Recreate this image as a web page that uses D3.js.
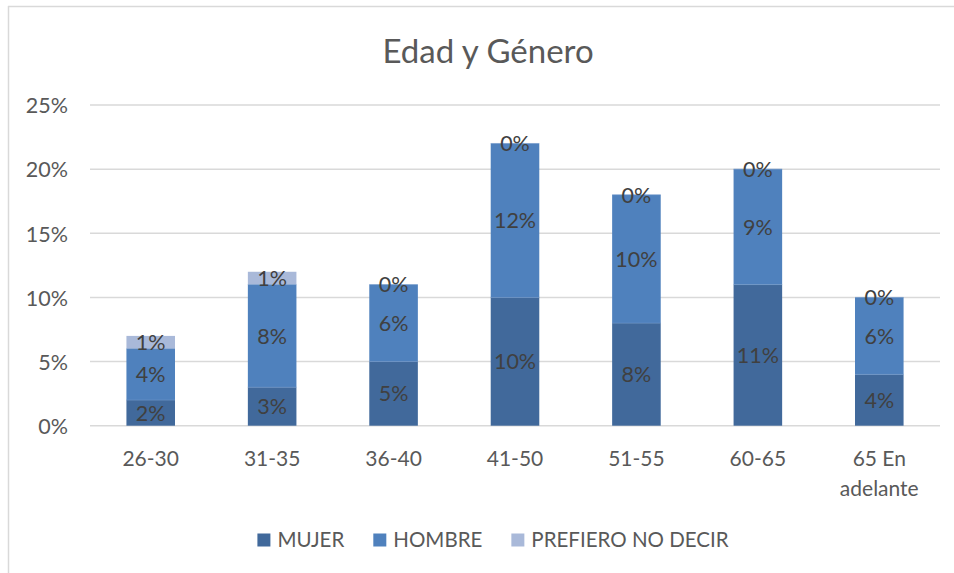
<!DOCTYPE html>
<html>
<head>
<meta charset="utf-8">
<script src="https://cdn.jsdelivr.net/npm/d3@7"></script>
<style>
  html, body { margin: 0; padding: 0; background: #fff; }
  svg { display: block; }
  text { font-family: Lato, "Open Sans", sans-serif; }
</style>
</head>
<body>
<svg id="chart" width="954" height="573"></svg>
<script>
// ---- data ----
const categories = ["26-30", "31-35", "36-40", "41-50", "51-55", "60-65", "65 En adelante"];
const seriesNames = ["MUJER", "HOMBRE", "PREFIERO NO DECIR"];
const mujer    = [0.02, 0.03, 0.05, 0.10, 0.08, 0.11, 0.04];
const hombre   = [0.04, 0.08, 0.06, 0.12, 0.10, 0.09, 0.06];
const prefiero = [0.01, 0.01, 0.00, 0.00, 0.00, 0.00, 0.00];
const yTicks   = [0, 0.05, 0.10, 0.15, 0.20, 0.25];
const title    = "Edad y Género";

const colors = ["#41699b", "#4f81bd", "#a9b9d9"];

const svg = d3.select("#chart");
const W = 954, H = 573;

// frame
svg.append("line").attr("x1", 8).attr("x2", W).attr("y1", 6.5).attr("y2", 6.5)
  .attr("stroke", "#d9d9d9").attr("stroke-width", 1.5);
svg.append("line").attr("x1", 8.5).attr("x2", 8.5).attr("y1", 6).attr("y2", H)
  .attr("stroke", "#d9d9d9").attr("stroke-width", 1.5);

const margin = { left: 90, right: 14 };
const x = d3.scaleBand().domain(categories)
  .range([margin.left, W - margin.right])
  .paddingInner(0.6).paddingOuter(0.3);
const y = d3.scaleLinear().domain([0, 0.25]).range([425.7, 105]);

// title
svg.append("text").attr("x", 488).attr("y", 63)
  .attr("text-anchor", "middle").attr("fill", "#595959")
  .style("font-size", "33px").text(title);

// gridlines
svg.append("g").selectAll("line").data(yTicks).join("line")
  .attr("x1", margin.left).attr("x2", W - margin.right)
  .attr("y1", d => y(d)).attr("y2", d => y(d))
  .attr("stroke", "#d9d9d9").attr("stroke-width", 1.5);

// y axis labels
const yAxis = d3.axisLeft(y).tickValues(yTicks).tickFormat(d3.format(".0%")).tickSize(0).tickPadding(0);
const gy = svg.append("g").attr("transform", "translate(68,0)").call(yAxis);
gy.select(".domain").remove();
gy.selectAll("text").attr("fill", "#595959").style("font-size", "21.5px")
  .style("font-family", "Lato, sans-serif").attr("dy", "0.36em");

// stacked data
const rows = categories.map((c, i) => ({ cat: c, MUJER: mujer[i], HOMBRE: hombre[i], "PREFIERO NO DECIR": prefiero[i] }));
const stack = d3.stack().keys(seriesNames)(rows);

const layers = svg.append("g").selectAll("g").data(stack).join("g")
  .attr("fill", (d, i) => colors[i]);
layers.selectAll("rect").data(d => d).join("rect")
  .attr("x", d => x(d.data.cat))
  .attr("width", x.bandwidth())
  .attr("y", d => y(d[1]))
  .attr("height", d => y(d[0]) - y(d[1]));

// segment separators (thin light lines like Excel)
svg.append("g").selectAll("line").data(stack.slice(0, 2).flatMap(s => s)).join("line")
  .attr("x1", d => x(d.data.cat)).attr("x2", d => x(d.data.cat) + x.bandwidth())
  .attr("y1", d => y(d[1])).attr("y2", d => y(d[1]))
  .attr("stroke", "#6d94c8").attr("stroke-width", 1).attr("stroke-opacity", 0.6);

// data labels
const fmt = d3.format(".0%");
const labels = svg.append("g");
stack.forEach(s => {
  labels.selectAll(null).data(s).join("text")
    .attr("x", d => x(d.data.cat) + x.bandwidth() / 2)
    .attr("y", d => y((d[0] + d[1]) / 2))
    .attr("dy", "0.36em")
    .attr("text-anchor", "middle")
    .attr("fill", "#404040")
    .style("font-size", "21.5px")
    .text(d => fmt(d[1] - d[0]));
});

// x axis labels
const xl = svg.append("g").selectAll("text").data(categories).join("text")
  .attr("x", d => x(d) + x.bandwidth() / 2)
  .attr("y", 466)
  .attr("text-anchor", "middle")
  .attr("fill", "#595959")
  .style("font-size", "21px");
xl.each(function(d) {
  const t = d3.select(this);
  const parts = d === "65 En adelante" ? ["65 En", "adelante"] : [d];
  parts.forEach((p, i) => {
    t.append("tspan").attr("x", x(d) + x.bandwidth() / 2).attr("dy", i === 0 ? 0 : 30).text(p);
  });
});

// legend
const lg = svg.append("g");
const items = seriesNames.map((n, i) => {
  const g = lg.append("g");
  g.append("rect").attr("width", 13).attr("height", 13).attr("y", -6.5).attr("fill", colors[i]);
  const t = g.append("text").attr("x", 20).attr("dy", "0.36em").attr("fill", "#595959")
    .style("font-size", "20.5px").text(n);
  return { g, w: 20 + t.node().getComputedTextLength() };
});
const gap = 29;
const total = d3.sum(items, d => d.w) + gap * (items.length - 1);
let cx = 493 - total / 2;
items.forEach(it => { it.g.attr("transform", `translate(${cx},540)`); cx += it.w + gap; });
</script>
</body>
</html>
